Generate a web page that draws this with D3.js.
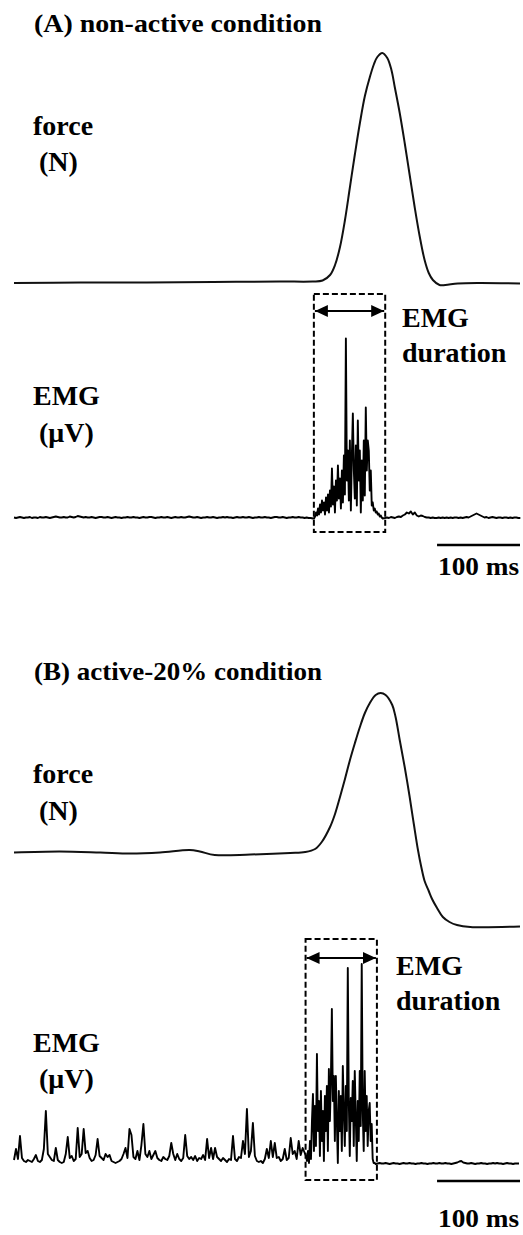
<!DOCTYPE html>
<html>
<head>
<meta charset="utf-8">
<script src="https://cdn.jsdelivr.net/npm/d3@7/dist/d3.min.js"></script>
<style>
  html, body { margin: 0; padding: 0; background: #fff; }
  svg { display: block; }
</style>
</head>
<body>
<svg id="chart" width="523" height="1235"></svg>
<script>
// ---------- data ----------
const panelTitles = ["(A) non-active condition", "(B) active-20% condition"];
const scaleBarLabel = "100 ms";
const scaleBarMs = [510, 610];

// force traces: time (ms) and force (N)
const forceA_t = [0, 80, 160, 240, 320, 360, 372, 381, 387, 393, 399, 405, 411, 417, 423, 429, 434, 438, 444, 450, 455, 459, 465, 471, 477, 483, 489, 495, 500, 505, 513, 520, 535, 560, 610];
const forceA_N = [0, 0.1, 0.1, 0.2, 0.3, 0.3, 0.5, 1.6, 3.6, 7.2, 12.6, 19.2, 25.8, 32, 37.4, 41.2, 43.8, 45.2, 46, 45, 42.6, 39.2, 34, 28, 21.6, 15.2, 9.4, 4.6, 2, 0.6, -0.4, -0.4, -0.1, 0, -0.1];

const forceB_t = [0, 55, 104, 140, 176, 212, 224, 242, 285, 333, 351, 363, 371, 381, 387, 393, 399, 405, 411, 417, 423, 429, 436, 442, 448, 456, 460, 465, 471, 477, 482, 487, 491, 495, 500, 504, 510, 517, 525, 534, 550, 610];
const forceB_N = [14.9, 15.1, 14.9, 14.7, 14.9, 15.4, 15.1, 14.4, 14.5, 14.8, 15, 15.6, 17, 20, 22.6, 26, 29.6, 33.4, 36.8, 40, 42.8, 44.8, 46.4, 46.8, 46.4, 44.4, 42, 37.4, 32, 26, 20.6, 15.4, 12, 9.2, 7.2, 5.6, 3.8, 2, 1, 0.4, 0, 0.1];

// rectified EMG (µV), stored as sampled segments: start time (ms), sample interval (ms), values
const emgA_pre = { t0: 0, dt: 2.4, v: [
  2,1,2,3,2,1,2,2,3,1,2,2,1,3,2,2,3,2,1,2,3,4,3,2,2,
  3,2,2,4,3,2,3,5,4,3,2,3,2,2,3,2,1,2,3,3,2,2,3,2,1,
  2,3,2,2,1,2,2,3,2,2,3,2,2,1,2,3,2,2,3,3,2,1,2,2,3,
  2,2,3,2,1,2,3,2,2,3,2,2,3,4,3,2,2,3,2,1,2,2,3,2,2,
  3,2,1,2,2,3,2,3,2,2,1,2,3,2,2,3,2,2,3,2,1,2,2,3,2,
  2,3,2,2,1,2,3,3,2,2,3,2,1,2,2,3,2,2,3,2,2,1,2,1,1 ] };
const emgA_burst = { t0: 360.5, dt: 1.2, v: [
  0,0,4,12,6,20,8,28,12,36,16,32,8,42,16,48,12,56,24,100,
  28,64,12,76,36,106,40,80,20,96,32,126,48,360,76,136,36,156,16,126,
  210,96,40,146,26,196,76,136,12,116,36,156,46,222,96,156,136,56,96,26,
  32,16,20,12,14,8,10,4,6,2,0 ] };
const emgA_post = { t0: 447.2, dt: 2.4, v: [
  1,2,1,3,2,1,3,4,3,6,8,12,10,14,8,12,6,4,6,5,
  3,2,2,1,2,1,1,2,1,2,1,2,1,2,1,2,2,1,2,1,
  2,3,2,4,6,8,10,8,6,4,2,3,1,2,3,2,1,2,2,1,
  2,2,1,2,1,2,2,1,1 ] };

const emgB_pre = { t0: 0, dt: 2.4, v: [
  8,30,10,56,12,6,4,8,6,4,10,18,6,4,8,30,106,20,14,8,
  6,32,8,4,2,4,20,54,12,16,6,10,72,14,20,70,22,26,12,6,
  8,18,50,16,12,8,20,14,18,6,4,2,4,6,10,20,32,12,70,58,
  14,10,26,8,38,80,20,14,26,10,18,26,12,8,6,14,10,8,16,42,
  20,8,20,10,6,12,58,16,10,14,8,16,6,12,10,18,8,50,12,32,
  10,32,14,10,6,12,8,4,10,8,56,10,6,14,12,46,20,110,14,26,
  82,16,6,4,6,2,10,30,12,46,14,42,12,14,6,10,30,8,12,52,
  20,26,10,46,18,32 ] };
const emgB_burst = { t0: 352, dt: 1.2, v: [
  16,6,26,2,46,10,86,140,26,116,36,220,66,126,16,146,46,106,6,136,
  66,156,26,190,86,166,310,126,176,46,176,86,2,146,66,136,26,196,106,36,
  156,66,392,126,16,132,86,166,36,186,96,6,126,46,186,76,400,106,26,186,
  66,136,36,106,122,46,80,10,2,2,0 ] };
const emgB_post = { t0: 438.4, dt: 2.4, v: [
  1,2,1,1,2,1,0,1,2,1,1,0,1,2,1,1,2,1,1,0,
  1,1,2,1,1,0,1,1,2,1,1,2,1,1,2,1,1,0,1,2,
  3,5,6,3,2,1,1,2,1,0,1,1,2,1,1,0,1,1,2,1,
  2,1,1,0,1,2,1,1,0,1,1,1 ] };

// EMG burst limits (onset, offset) in ms
const emgDurationA = [361.5, 447.5];
const emgDurationB = [351.5, 437.5];

// ---------- helpers ----------
const FONT = "'Liberation Serif', 'Times New Roman', 'DejaVu Serif', serif";
const toPoints = (ts, vs) => ts.map((t, i) => [t, vs[i]]);
const segPoints = seg => seg.v.map((v, i) => [seg.t0 + i * seg.dt, v]);

const svg = d3.select("#chart");
const x = d3.scaleLinear().domain([0, 610]).range([14, 520]);

const panels = [
  { title: panelTitles[0], titleY: 32,
    force: toPoints(forceA_t, forceA_N), forceY: d3.scaleLinear().domain([0, 46]).range([283, 53]),
    emg: [].concat(segPoints(emgA_pre), segPoints(emgA_burst), segPoints(emgA_post)),
    emgY: d3.scaleLinear().domain([0, 360]).range([518.5, 338.5]),
    dur: emgDurationA, boxTop: 294, boxBottom: 532, arrowY: 311,
    forceLab: [135, 171], emgLab: [405, 442], durLab: [402, 327, 362],
    barY: 545, barLabY: 575 },
  { title: panelTitles[1], titleY: 680,
    force: toPoints(forceB_t, forceB_N), forceY: d3.scaleLinear().domain([0, 46.8]).range([927, 693]),
    emg: [].concat(segPoints(emgB_pre), segPoints(emgB_burst), segPoints(emgB_post)),
    emgY: d3.scaleLinear().domain([0, 400]).range([1164, 964]),
    dur: emgDurationB, boxTop: 939, boxBottom: 1180, arrowY: 958,
    forceLab: [783, 820], emgLab: [1052, 1088], durLab: [396, 975, 1010],
    barY: 1181, barLabY: 1227 }
];

// arrow head markers
const defs = svg.append("defs");
["start", "end"].forEach(k => {
  defs.append("marker")
    .attr("id", "head-" + k)
    .attr("viewBox", "0 0 13 12")
    .attr("refX", k === "end" ? 13 : 0).attr("refY", 6)
    .attr("markerWidth", 13).attr("markerHeight", 12)
    .attr("markerUnits", "userSpaceOnUse")
    .attr("orient", "auto")
    .append("path")
    .attr("d", k === "end" ? "M0,0 L13,6 L0,12 Z" : "M13,0 L0,6 L13,12 Z")
    .attr("fill", "#000");
});

function label(txt, px, py, size, opts) {
  opts = opts || {};
  const t = svg.append("text").attr("x", px).attr("y", py)
    .attr("font-family", FONT).attr("font-weight", "bold")
    .attr("font-size", size).attr("fill", "#000")
    .attr("text-anchor", opts.anchor || "start").text(txt);
  if (opts.width) t.attr("textLength", opts.width).attr("lengthAdjust", "spacingAndGlyphs");
  return t;
}

panels.forEach(p => {
  label(p.title, 34, p.titleY, 25, { width: 288 });

  // force trace
  const fy = p.forceY;
  svg.append("path")
    .datum(p.force)
    .attr("fill", "none").attr("stroke", "#111").attr("stroke-width", 2)
    .attr("d", d3.line().x(d => x(d[0])).y(d => fy(d[1])).curve(d3.curveCatmullRom.alpha(0.5)));

  // EMG trace
  const ey = p.emgY;
  svg.append("path")
    .datum(p.emg)
    .attr("fill", "none").attr("stroke", "#000").attr("stroke-width", 1.9)
    .attr("stroke-linejoin", "round")
    .attr("d", d3.line().x(d => x(d[0])).y(d => ey(d[1])));

  // labels
  label("force", 33, p.forceLab[0], 28);
  label("(N)", 39, p.forceLab[1], 28);
  label("EMG", 33, p.emgLab[0], 28);
  label("(\u03bcV)", 39, p.emgLab[1], 28);

  // EMG duration box and arrow
  const x0 = x(p.dur[0]), x1 = x(p.dur[1]);
  svg.append("rect")
    .attr("x", x0).attr("y", p.boxTop)
    .attr("width", x1 - x0).attr("height", p.boxBottom - p.boxTop)
    .attr("fill", "none").attr("stroke", "#000").attr("stroke-width", 2)
    .attr("stroke-dasharray", "6,3");
  svg.append("line")
    .attr("x1", x0 + 1).attr("x2", x1 - 1)
    .attr("y1", p.arrowY).attr("y2", p.arrowY)
    .attr("stroke", "#000").attr("stroke-width", 2)
    .attr("marker-start", "url(#head-start)").attr("marker-end", "url(#head-end)");
  label("EMG", p.durLab[0], p.durLab[1], 28);
  label("duration", p.durLab[0], p.durLab[2], 28);

  // time scale bar
  svg.append("line")
    .attr("x1", x(scaleBarMs[0])).attr("x2", x(scaleBarMs[1]))
    .attr("y1", p.barY).attr("y2", p.barY)
    .attr("stroke", "#000").attr("stroke-width", 2.5);
  label(scaleBarLabel, x(scaleBarMs[1]) - 1, p.barLabY, 26, { anchor: "end", width: 81 });
});
</script>
</body>
</html>
